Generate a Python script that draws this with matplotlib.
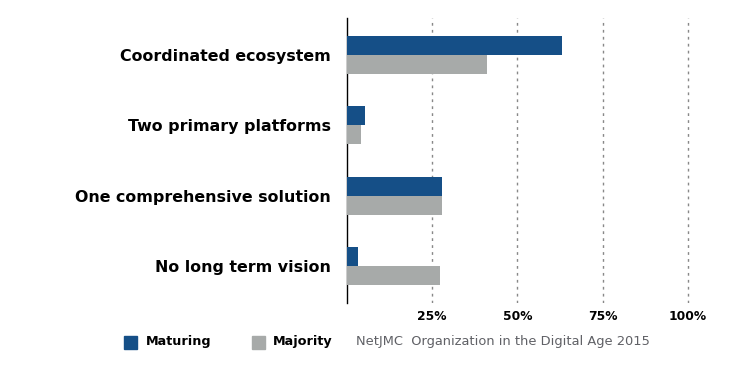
import matplotlib
matplotlib.use("Agg")
import matplotlib.pyplot as plt
from matplotlib.patches import Rectangle

plt.rcParams["font.family"] = "DejaVu Sans"

# data
categories = ["Coordinated ecosystem", "Two primary platforms",
              "One comprehensive solution", "No long term vision"]
maturing = [63, 5.3, 28, 3.2]
majority = [41, 4, 28, 27.2]
ticks = [25, 50, 75, 100]
tick_labels = ["25%", "50%", "75%", "100%"]

blue = "#154f87"
gray = "#a7aaa9"

fig = plt.figure(figsize=(7.5, 3.75), dpi=100)
ax = fig.add_axes([347 / 750, 1 - 303 / 375, 345 / 750, 285 / 375])

y = list(range(len(categories)))
h = 0.27
ax.barh([v - h / 2 for v in y], maturing, height=h, color=blue, zorder=3)
ax.barh([v + h / 2 for v in y], majority, height=h, color=gray, zorder=3)

ax.set_ylim(3.52, -0.52)
ax.set_xlim(0, 101.2)
ax.set_yticks(y)
ax.set_yticklabels(categories, fontsize=11.4, fontweight="bold")
ax.tick_params(axis="y", length=0, pad=11.5)
ax.set_xticks(ticks)
ax.set_xticklabels(tick_labels, fontsize=8.8, fontweight="bold")
ax.tick_params(axis="x", length=0, pad=5)

for s in ["top", "right", "bottom"]:
    ax.spines[s].set_visible(False)
ax.spines["left"].set_color("black")
ax.spines["left"].set_linewidth(1)
ax.grid(axis="x", linestyle=(0, (2, 3)), color="#888888", linewidth=1, zorder=0)

# legend + source line
fig.add_artist(Rectangle((124 / 750, 1 - 349 / 375), 13 / 750, 13 / 375,
                         color=blue, transform=fig.transFigure))
fig.text(146 / 750, 1 - 342 / 375, "Maturing", fontsize=9.2, fontweight="bold",
         va="center")
fig.add_artist(Rectangle((252 / 750, 1 - 349 / 375), 13 / 750, 13 / 375,
                         color=gray, transform=fig.transFigure))
fig.text(273 / 750, 1 - 342 / 375, "Majority", fontsize=9.2, fontweight="bold",
         va="center")
fig.text(356 / 750, 1 - 342 / 375, "NetJMC  Organization in the Digital Age 2015",
         fontsize=9.4, color="#606166", va="center")

fig.savefig("out.png", dpi=100)
